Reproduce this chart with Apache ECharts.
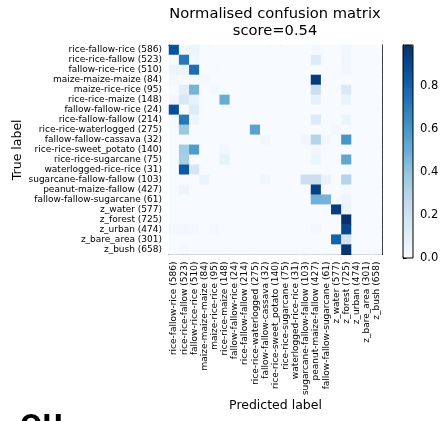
<!DOCTYPE html>
<html>
<head>
<meta charset="utf-8">
<script src="https://cdn.jsdelivr.net/npm/echarts@6/dist/echarts.min.js"></script>
<style>
  html, body { margin: 0; padding: 0; background: #fff; }
  #chart { width: 448px; height: 421px; }
</style>
</head>
<body>
<div id="chart"></div>
<script>
// Class names with their sample counts (rows = true, columns = predicted)
const classLabels = [
  'rice-fallow-rice (586)', 'rice-rice-fallow (523)', 'fallow-rice-rice (510)',
  'maize-maize-maize (84)', 'maize-rice-rice (95)', 'rice-rice-maize (148)',
  'fallow-fallow-rice (24)', 'rice-fallow-fallow (214)', 'rice-rice-waterlogged (275)',
  'fallow-fallow-cassava (32)', 'rice-rice-sweet_potato (140)', 'rice-rice-sugarcane (75)',
  'waterlogged-rice-rice (31)', 'sugarcane-fallow-fallow (103)', 'peanut-maize-fallow (427)',
  'fallow-fallow-sugarcane (61)', 'z_water (577)', 'z_forest (725)', 'z_urban (474)',
  'z_bare_area (301)', 'z_bush (658)'
];

// Row-normalised confusion matrix
const normalised = [
  [0.86,0.04,0.05,0,0,0,0,0,0,0,0,0,0,0,0.02,0,0,0.03,0,0,0],
  [0.01,0.72,0.04,0,0,0,0,0,0,0,0,0,0,0,0.13,0,0,0.04,0,0,0],
  [0.06,0.06,0.76,0,0.01,0,0,0,0,0,0,0,0,0,0,0,0,0.03,0,0,0],
  [0.03,0,0,0.02,0,0,0,0,0,0,0,0,0,0,0.95,0,0,0,0,0,0],
  [0,0.10,0.47,0,0.02,0.01,0,0,0,0,0,0,0,0,0.22,0,0,0.14,0,0,0],
  [0.02,0.15,0.08,0,0,0.50,0,0,0,0,0,0,0,0,0.08,0,0,0.06,0,0,0],
  [0.88,0,0.12,0,0,0,0,0,0,0,0,0,0,0,0,0,0,0,0,0,0],
  [0,0.72,0.05,0,0,0,0,0,0,0,0,0,0,0,0.13,0,0,0.06,0,0,0],
  [0,0.38,0,0,0,0,0,0,0.55,0,0,0,0,0,0,0,0.03,0,0,0,0],
  [0,0,0,0,0,0,0,0,0,0.03,0,0,0,0.03,0.30,0.03,0,0.60,0,0,0],
  [0,0.36,0.58,0,0,0.03,0,0,0,0,0,0,0,0,0.03,0,0,0,0,0,0],
  [0,0.34,0,0,0,0.08,0,0,0,0,0,0,0,0,0.05,0,0,0.53,0,0,0],
  [0,0.84,0.16,0,0,0,0,0,0,0,0,0,0,0,0,0,0,0,0,0,0],
  [0,0,0,0.06,0,0,0,0,0,0.04,0,0,0,0.22,0.22,0.07,0,0.30,0,0,0],
  [0,0.05,0,0,0,0,0,0,0,0,0,0,0,0,0.93,0,0,0.02,0,0,0],
  [0,0,0,0,0,0,0,0,0,0,0,0,0,0,0.48,0.47,0,0.05,0,0,0],
  [0,0,0,0,0,0,0,0,0,0,0,0,0,0,0,0,0.94,0.06,0,0,0],
  [0,0,0,0,0,0,0,0,0,0,0,0,0,0,0,0,0,0.99,0,0,0],
  [0.03,0.03,0.02,0,0.02,0,0,0,0,0,0,0,0,0,0.02,0,0,0.90,0,0,0],
  [0,0,0,0,0,0,0,0,0,0,0,0,0,0,0,0,0.80,0.18,0,0,0],
  [0,0.02,0,0,0,0,0,0,0,0,0,0,0,0,0,0,0,0.97,0,0,0]
];

const scoreText = 'score=0.54';
const colourbarTicks = [0, 0.2, 0.4, 0.6, 0.8];

// matplotlib "Blues" colormap stops
const blues = ['#f7fbff','#deebf7','#c6dbef','#9ecae1','#6baed6','#4292c6','#2171b5','#08519c','#08306b'];

const cells = [];
normalised.forEach((row, r) => row.forEach((v, c) => cells.push([c, r, v])));
const vmax = Math.max(...cells.map(d => d[2]));

const font = 'DejaVu Sans';
const chart = echarts.init(document.getElementById('chart'), null, { renderer: 'canvas' });

chart.setOption({
  animation: false,
  backgroundColor: '#fff',
  title: {
    text: 'Normalised confusion matrix\n' + scoreText,
    left: 275, top: 5.5, textAlign: 'center', padding: 0,
    textStyle: { fontFamily: font, fontSize: 14.7, fontWeight: 'normal', color: '#000', lineHeight: 17 }
  },
  grid: [
    { left: 169, top: 45, width: 213, height: 213, show: false },
    { left: 403, top: 45, width: 10, height: 213, show: false }
  ],
  xAxis: [
    {
      type: 'category', gridIndex: 0, data: classLabels, position: 'bottom',
      name: 'Predicted label', nameLocation: 'middle', nameGap: 143,
      nameTextStyle: { fontFamily: font, fontSize: 12.5, color: '#000' },
      axisLine: { lineStyle: { color: '#000', width: 1 } },
      axisTick: { alignWithLabel: true, length: 3.5, lineStyle: { color: '#000' } },
      axisLabel: { interval: 0, rotate: 90, margin: 7, fontFamily: font, fontSize: 9, color: '#000' },
      splitLine: { show: false }
    },
    {
      type: 'category', gridIndex: 0, data: classLabels, position: 'top',
      axisLine: { lineStyle: { color: '#000', width: 1 } },
      axisTick: { show: false }, axisLabel: { show: false }, splitLine: { show: false }
    },
    {
      type: 'value', gridIndex: 1, show: false
    }
  ],
  yAxis: [
    {
      type: 'category', gridIndex: 0, data: classLabels, inverse: true, position: 'left',
      name: 'True label', nameLocation: 'middle', nameGap: 144, nameRotate: 90,
      nameTextStyle: { fontFamily: font, fontSize: 12.5, color: '#000' },
      axisLine: { lineStyle: { color: '#000', width: 1 } },
      axisTick: { alignWithLabel: true, length: 3.5, lineStyle: { color: '#000' } },
      axisLabel: { interval: 0, margin: 7, fontFamily: font, fontSize: 9, color: '#000' },
      splitLine: { show: false }
    },
    {
      type: 'category', gridIndex: 0, data: classLabels, inverse: true, position: 'right',
      axisLine: { lineStyle: { color: '#000', width: 1 } },
      axisTick: { show: false }, axisLabel: { show: false }, splitLine: { show: false }
    },
    {
      // colour bar scale
      type: 'value', gridIndex: 1, position: 'right', min: 0, max: vmax,
      axisLine: { show: true, lineStyle: { color: '#000', width: 1 } },
      axisTick: { show: true, length: 3.5, customValues: colourbarTicks, lineStyle: { color: '#000' } },
      axisLabel: {
        customValues: colourbarTicks, margin: 7, fontFamily: font, fontSize: 11.5, color: '#000',
        formatter: v => v.toFixed(1)
      },
      splitLine: { show: false }
    }
  ],
  visualMap: {
    type: 'continuous', seriesIndex: 0, min: 0, max: vmax,
    calculable: false, orient: 'vertical', padding: 0,
    left: 403, top: 45, itemWidth: 10, itemHeight: 213,
    inRange: { color: blues }, showLabel: false, text: null, hoverLink: false
  },
  graphic: [
    {
      type: 'rect', z: 100, silent: true,
      shape: { x: 403, y: 45, width: 10, height: 213 },
      style: { fill: 'none', stroke: '#000', lineWidth: 1 }
    },
    {
      type: 'text', left: 20, top: 414, silent: true,
      style: { text: 'OU', font: 'bold 26px "DejaVu Sans"', fill: '#000' }
    }
  ],
  series: [
    {
      type: 'heatmap', xAxisIndex: 0, yAxisIndex: 0, data: cells,
      itemStyle: { borderWidth: 0 },
      emphasis: { disabled: true }
    }
  ]
});
</script>
</body>
</html>
